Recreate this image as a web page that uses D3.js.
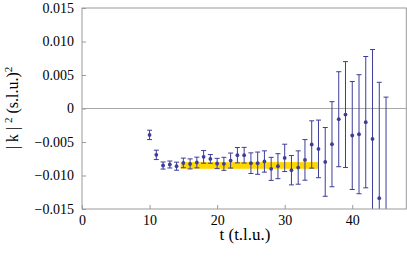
<!DOCTYPE html>
<html>
<head>
<meta charset="utf-8">
<script src="https://cdn.jsdelivr.net/npm/d3@7/dist/d3.min.js"></script>
<style>
  html, body { margin: 0; padding: 0; background: #fff; }
  svg { display: block; font-family: "Liberation Serif", "Times New Roman", serif; }
  .frame { fill: none; stroke: #9a9a9a; stroke-width: 1; }
  .tick line { stroke: #9a9a9a; }
  .tick text { font-family: "Liberation Serif", "Times New Roman", serif; font-size: 14px; fill: #000; }
</style>
</head>
<body>
<svg id="chart" width="407" height="257"></svg>
<script>
// time slices (t.l.u.)
const times = [10, 11, 12, 13, 14, 15, 16, 17, 18, 19, 20, 21, 22, 23, 24, 25, 26, 27,
  28, 29, 30, 31, 32, 33, 34, 35, 36, 37, 38, 39, 40, 41, 42, 43, 44, 45];
// |k|^2 estimates
const values = [-0.00394, -0.00692, -0.00851, -0.00836, -0.00861, -0.00812, -0.00827, -0.00806,
  -0.00722, -0.00752, -0.00821, -0.00826, -0.00777, -0.00697, -0.00697, -0.00816, -0.00816,
  -0.00791, -0.00901, -0.00861, -0.00737, -0.00921, -0.00881, -0.00767, -0.00537, -0.00603,
  -0.00797, -0.00533, -0.0016, -0.0009, -0.00403, -0.00384, -0.00204, -0.00454, -0.01339, -0.0172];
// one-sigma errors
const errors = [0.0007, 0.0007, 0.00053, 0.00052, 0.0006, 0.00072, 0.00075, 0.0008, 0.00094,
  0.00065, 0.00077, 0.00097, 0.00112, 0.00115, 0.00117, 0.00154, 0.00166, 0.00159, 0.00172,
  0.00187, 0.00204, 0.00219, 0.00249, 0.00303, 0.00353, 0.0043, 0.00513, 0.00635, 0.00709,
  0.0079, 0.00806, 0.00888, 0.0098, 0.01334, 0.0173, 0.0189];
// fit band (plateau)
const bandT = [14.6, 35];
const bandY = [-0.0090, -0.0080];

const xTicks = [0, 10, 20, 30, 40];
const yTicks = [-0.015, -0.010, -0.005, 0, 0.005, 0.010, 0.015];

const W = 407, H = 257;
const margin = { left: 82, right: 0.7, top: 8, bottom: 48 };

const svg = d3.select('#chart');

const x = d3.scaleLinear().domain([0, 48]).range([margin.left, W - margin.right]);
const y = d3.scaleLinear().domain([-0.015, 0.015]).range([H - margin.bottom, margin.top]);

svg.append('defs').append('clipPath').attr('id', 'plot-clip')
  .append('rect')
  .attr('x', x.range()[0]).attr('y', y.range()[1])
  .attr('width', x.range()[1] - x.range()[0])
  .attr('height', y.range()[0] - y.range()[1]);

const plot = svg.append('g').attr('clip-path', 'url(#plot-clip)');

// zero line
plot.append('line')
  .attr('x1', x.range()[0]).attr('x2', x.range()[1])
  .attr('y1', y(0)).attr('y2', y(0))
  .attr('stroke', '#a8a8a8').attr('stroke-width', 1);

// yellow fit band
plot.append('rect')
  .attr('x', x(bandT[0]))
  .attr('y', y(bandY[1]))
  .attr('width', x(bandT[1]) - x(bandT[0]))
  .attr('height', y(bandY[0]) - y(bandY[1]))
  .attr('fill', '#ffd700');

// error bars
const pts = times.map((t, i) => ({ t, v: values[i], e: errors[i] }));
const blue = '#3d3d99';
const cap = 2.5;

const bars = plot.append('g').selectAll('g').data(pts).join('g');
bars.append('line')
  .attr('x1', d => x(d.t)).attr('x2', d => x(d.t))
  .attr('y1', d => y(d.v + d.e)).attr('y2', d => y(d.v - d.e))
  .attr('stroke', blue).attr('stroke-width', 1);
bars.append('line')
  .attr('x1', d => x(d.t) - cap).attr('x2', d => x(d.t) + cap)
  .attr('y1', d => y(d.v + d.e)).attr('y2', d => y(d.v + d.e))
  .attr('stroke', blue).attr('stroke-width', 1);
bars.append('line')
  .attr('x1', d => x(d.t) - cap).attr('x2', d => x(d.t) + cap)
  .attr('y1', d => y(d.v - d.e)).attr('y2', d => y(d.v - d.e))
  .attr('stroke', blue).attr('stroke-width', 1);
bars.append('circle')
  .attr('cx', d => x(d.t)).attr('cy', d => y(d.v))
  .attr('r', 1.9)
  .attr('fill', blue);

// frame
svg.append('rect').attr('class', 'frame')
  .attr('x', x.range()[0]).attr('y', y.range()[1])
  .attr('width', x.range()[1] - x.range()[0])
  .attr('height', y.range()[0] - y.range()[1]);

// axes (ticks inward)
const fmtY = v => v === 0 ? '0' : d3.format('.3f')(v).replace('-', '\u2212');
svg.append('g')
  .attr('transform', `translate(${x.range()[0]},0)`)
  .call(d3.axisLeft(y).tickValues(yTicks).tickSize(-4).tickPadding(8).tickFormat(fmtY))
  .call(g => g.select('.domain').remove());

svg.append('g')
  .attr('transform', `translate(0,${y.range()[0]})`)
  .call(d3.axisBottom(x).tickValues(xTicks).tickSize(-4).tickPadding(6).tickFormat(d3.format('d')))
  .call(g => g.select('.domain').remove());

// axis labels
svg.append('text')
  .attr('x', 245).attr('y', 240)
  .attr('text-anchor', 'middle')
  .attr('font-size', 17)
  .text('t (t.l.u.)');

const yl = svg.append('text')
  .attr('transform', 'translate(18,108) rotate(-90)')
  .attr('text-anchor', 'middle')
  .attr('font-size', 16);
yl.append('tspan').text('| k | ');
yl.append('tspan').attr('font-size', 11).attr('dy', -6).text('2');
yl.append('tspan').attr('dy', 6).text(' (s.l.u.)');
yl.append('tspan').attr('font-size', 11).attr('dy', -6).text('2');
</script>
</body>
</html>
